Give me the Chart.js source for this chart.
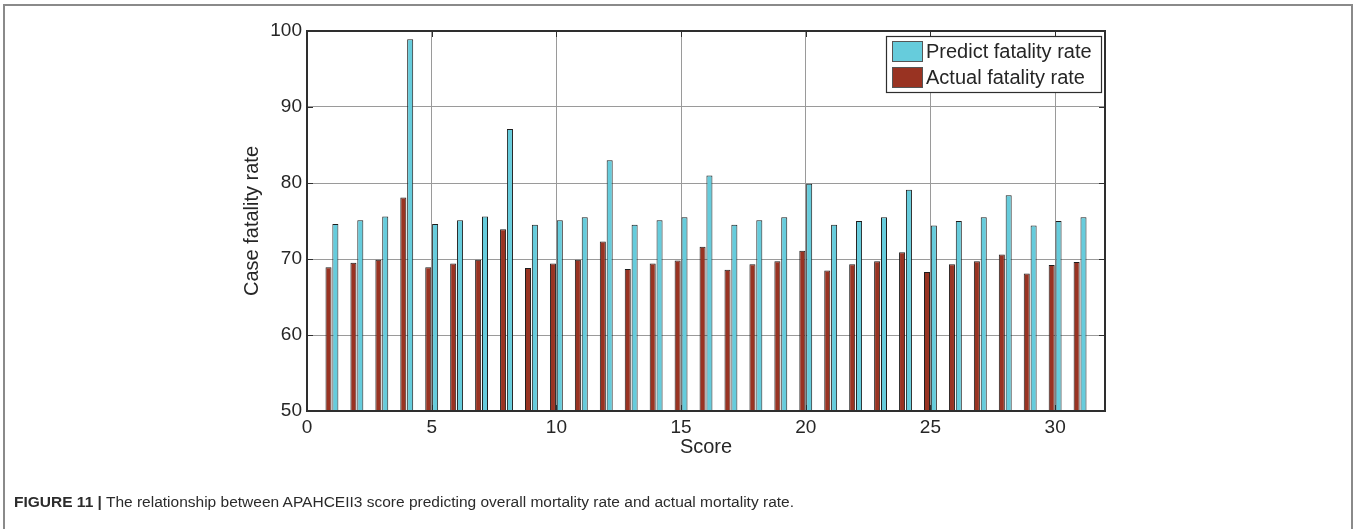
<!DOCTYPE html>
<html>
<head>
<meta charset="utf-8">
<title>Case fatality rate by score</title>
<script src="https://cdn.jsdelivr.net/npm/chart.js@4.4.1/dist/chart.umd.min.js"></script>
<style>
  html, body { margin: 0; padding: 0; background: #ffffff; }
  body { width: 1357px; height: 529px; position: relative; overflow: hidden; }
  #frame {
    position: absolute; left: 3px; top: 4px; width: 1346px; height: 540px;
    border-top: 2px solid #8a8a8a; border-left: 2px solid #8a8a8a; border-right: 2px solid #8a8a8a;
  }
  #chart { position: absolute; left: 0; top: 0; }
  #caption {
    position: absolute; left: 14px; top: 493px; white-space: nowrap;
    font-family: "Liberation Sans", Arial, sans-serif; font-size: 15.5px; color: #2b2b2b;
  }
  #caption b { font-weight: bold; }
</style>
</head>
<body>
<div id="frame"></div>
<canvas id="chart" width="1357" height="529"></canvas>
<div id="caption"><b>FIGURE 11 |</b> The relationship between APAHCEII3 score predicting overall mortality rate and actual mortality rate.</div>
<script>
// Score values on the x axis
const scores = [1, 2, 3, 4, 5, 6, 7, 8, 9, 10, 11, 12, 13, 14, 15, 16,
                17, 18, 19, 20, 21, 22, 23, 24, 25, 26, 27, 28, 29, 30, 31];

// Predicted case fatality rate for each score
const predictRate = [74.6, 75.1, 75.6, 98.9, 74.6, 75.1, 75.6, 87.1, 74.5, 75.1, 75.5,
                     83.0, 74.5, 75.1, 75.5, 81.0, 74.5, 75.1, 75.5, 79.9, 74.5, 75.0,
                     75.5, 79.1, 74.4, 75.0, 75.5, 78.4, 74.4, 75.0, 75.5];

// Observed case fatality rate for each score
const actualRate = [68.9, 69.5, 69.9, 78.1, 68.9, 69.4, 69.9, 73.9, 68.8, 69.4, 69.9,
                    72.3, 68.7, 69.4, 69.8, 71.6, 68.6, 69.3, 69.7, 71.1, 68.5, 69.3,
                    69.7, 70.9, 68.3, 69.3, 69.7, 70.6, 68.1, 69.2, 69.6];

// Axis tick values
const xTicks = [0, 5, 10, 15, 20, 25, 30];
const yTicks = [50, 60, 70, 80, 90, 100];

const seriesLabels = ['Actual fatality rate', 'Predict fatality rate'];
const seriesColors = ['#993322', '#66CCDC'];

const FONT = '"Liberation Sans", Arial, sans-serif';
const TEXT = '#262626';

function toPoints(values) {
  return scores.map((s, i) => ({ x: s, y: values[i] }));
}

// Box around the plot with inward tick marks on all sides, MATLAB style
const boxPlugin = {
  id: 'boxTicks',
  afterDatasetsDraw(chart) {
    const { ctx, chartArea: a, scales } = chart;
    const tl = 6;
    ctx.save();
    ctx.strokeStyle = '#2e2e2e';
    ctx.lineWidth = 1;
    ctx.beginPath();
    xTicks.forEach(v => {
      const px = Math.round(scales.x.getPixelForValue(v)) + 0.5;
      ctx.moveTo(px, a.top); ctx.lineTo(px, a.top + tl);
      ctx.moveTo(px, a.bottom); ctx.lineTo(px, a.bottom - tl);
    });
    yTicks.forEach(v => {
      const py = Math.round(scales.y.getPixelForValue(v)) + 0.5;
      ctx.moveTo(a.left, py); ctx.lineTo(a.left + tl, py);
      ctx.moveTo(a.right, py); ctx.lineTo(a.right - tl, py);
    });
    ctx.stroke();
    ctx.lineWidth = 2;
    ctx.strokeStyle = '#2e2e2e';
    ctx.strokeRect(a.left, a.top, a.right - a.left, a.bottom - a.top);
    ctx.restore();
  }
};

// Legend drawn inside the upper right corner of the plot
const legendPlugin = {
  id: 'insideLegend',
  afterDraw(chart) {
    const { ctx, chartArea: a } = chart;
    const ds = chart.data.datasets.slice().reverse();
    const boxL = 886, boxT = 36, boxR = a.right - 4, boxB = 92;
    ctx.save();
    ctx.fillStyle = '#ffffff';
    ctx.fillRect(boxL, boxT, boxR - boxL, boxB - boxT);
    ctx.strokeStyle = '#2e2e2e';
    ctx.lineWidth = 1.2;
    ctx.strokeRect(boxL + 0.5, boxT + 0.5, boxR - boxL, boxB - boxT);
    ctx.font = '20px ' + FONT;
    ctx.textBaseline = 'middle';
    ctx.textAlign = 'left';
    ds.forEach((d, i) => {
      const cy = 51 + i * 26;
      ctx.fillStyle = d.backgroundColor;
      ctx.fillRect(892, cy - 10, 30, 20);
      ctx.strokeStyle = '#555555';
      ctx.lineWidth = 1;
      ctx.strokeRect(892.5, cy - 9.5, 30, 20);
      ctx.fillStyle = TEXT;
      ctx.fillText(d.label, 926, cy + 1);
    });
    ctx.restore();
  }
};

new Chart(document.getElementById('chart'), {
  type: 'bar',
  data: {
    datasets: [
      {
        label: seriesLabels[0],
        data: toPoints(actualRate),
        backgroundColor: seriesColors[0],
        borderColor: '#1e1e1e',
        borderWidth: 1,
        categoryPercentage: 0.55,
        barPercentage: 0.88
      },
      {
        label: seriesLabels[1],
        data: toPoints(predictRate),
        backgroundColor: seriesColors[1],
        borderColor: '#1e1e1e',
        borderWidth: 1,
        categoryPercentage: 0.55,
        barPercentage: 0.88
      }
    ]
  },
  options: {
    responsive: false,
    animation: false,
    devicePixelRatio: 1,
    layout: { padding: { left: 230, top: 31, right: 252, bottom: 60 } },
    plugins: {
      legend: { display: false },
      tooltip: { enabled: false }
    },
    scales: {
      x: {
        type: 'linear',
        offset: false,
        min: 0,
        max: 32,
        afterFit(scale) { scale.height = 58; },
        afterBuildTicks(scale) { scale.ticks = xTicks.map(v => ({ value: v })); },
        ticks: {
          font: { family: FONT, size: 19 },
          color: TEXT,
          padding: 5,
          maxRotation: 0
        },
        grid: { color: '#9a9a9a', lineWidth: 1, drawTicks: false, offset: false },
        border: { display: false },
        title: {
          display: true,
          text: 'Score',
          font: { family: FONT, size: 20 },
          color: TEXT,
          padding: { top: 0, bottom: 10 }
        }
      },
      y: {
        type: 'linear',
        min: 50,
        max: 100,
        afterFit(scale) { scale.width = 77; },
        afterBuildTicks(scale) { scale.ticks = yTicks.map(v => ({ value: v })); },
        ticks: {
          font: { family: FONT, size: 19 },
          color: TEXT,
          padding: 5
        },
        grid: { color: '#9a9a9a', lineWidth: 1, drawTicks: false },
        border: { display: false },
        title: {
          display: true,
          text: 'Case fatality rate',
          font: { family: FONT, size: 20 },
          color: TEXT,
          padding: { top: 10, bottom: 0 }
        }
      }
    }
  },
  plugins: [boxPlugin, legendPlugin]
});
</script>
</body>
</html>
